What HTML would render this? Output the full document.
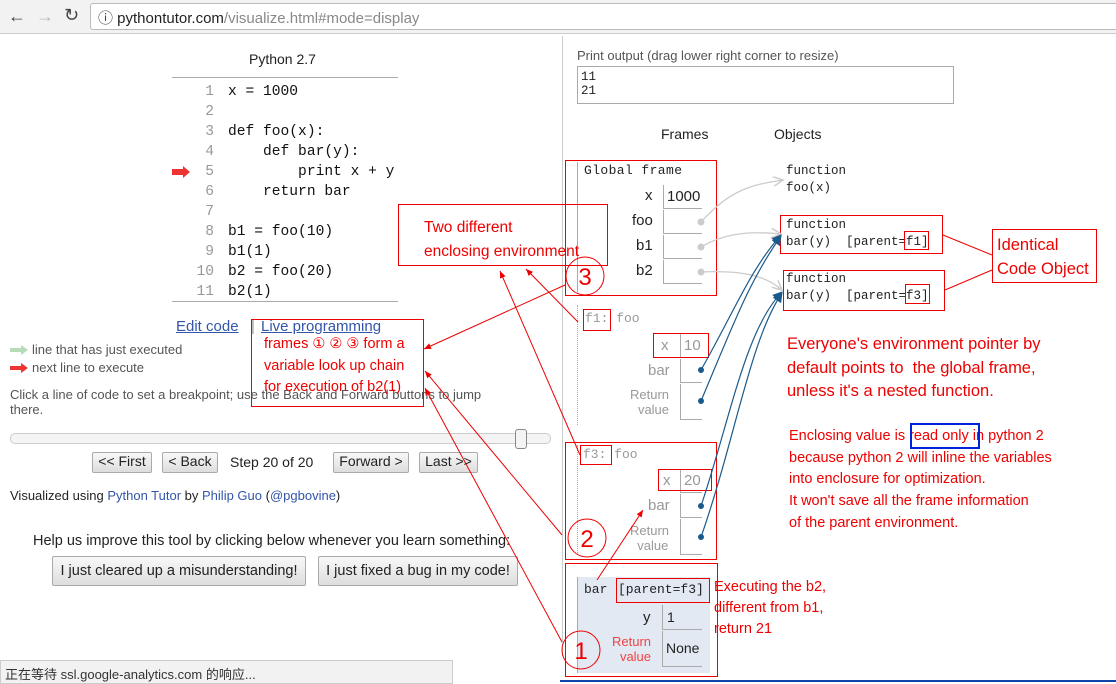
<!DOCTYPE html>
<html><head><meta charset="utf-8"><style>
*{margin:0;padding:0;box-sizing:border-box}
body{width:1116px;height:684px;position:relative;overflow:hidden;background:#fff;font-family:"Liberation Sans","DejaVu Sans",sans-serif;color:#222}
.a{position:absolute;white-space:nowrap}
.m{font-family:"Liberation Mono","DejaVu Sans Mono",monospace}
.r{color:#e00;font-family:"Liberation Sans",sans-serif}
.rb{position:absolute;border:1.5px solid #e00}
.btn{position:absolute;border:1px solid #aaa;background:linear-gradient(#f8f8f8,#ddd);font-size:14px;text-align:center;border-radius:2px}
.vb{position:absolute;border-left:1px solid #aaa;border-bottom:1px solid #aaa}
.g{color:#999}
</style></head><body>
<div class="a" style="left:0;top:0;width:1116px;height:34px;background:#f2f2f2;border-bottom:1px solid #ccc"></div>
<div class="a" style="left:8px;top:6px;font-size:18px;color:#444">←</div>
<div class="a" style="left:36px;top:6px;font-size:18px;color:#bbb">→</div>
<div class="a" style="left:64px;top:5px;font-size:18px;color:#444">↻</div>
<div class="a" style="left:90px;top:3px;width:1030px;height:27px;background:#fff;border:1px solid #bbb;border-radius:3px"></div>
<div class="a" style="left:98px;top:7px;font-size:15px;color:#444">ⓘ <span style="color:#222">pythontutor.com</span><span style="color:#888">/visualize.html#mode=display</span></div>

<div class="a" style="left:249px;top:51px;font-size:14px">Python 2.7</div>
<div class="a" style="left:172px;top:77px;width:226px;height:1px;background:#aaa"></div>
<div class="a m" style="left:190px;top:82px;font-size:14.6px;line-height:20px;color:#999;text-align:right;width:24px">1<br>2<br>3<br>4<br>5<br>6<br>7<br>8<br>9<br>10<br>11</div>
<div class="a m" style="left:228px;top:82px;font-size:14.6px;line-height:20px;white-space:pre;color:#111">x = 1000

def foo(x):
    def bar(y):
        print x + y
    return bar

b1 = foo(10)
b1(1)
b2 = foo(20)
b2(1)</div>
<div class="a" style="left:172px;top:301px;width:226px;height:1px;background:#aaa"></div>
<svg class="a" style="left:172px;top:166px" width="20" height="12"><path d="M0 3h11v-3l7 6-7 6v-3H0z" fill="#e33"/></svg>

<div class="a" style="left:176px;top:318px;font-size:15px;color:#3355aa;text-decoration:underline">Edit code</div>
<div class="a" style="left:251px;top:318px;font-size:15px;color:#999">|</div>
<div class="a" style="left:261px;top:318px;font-size:15px;color:#3355aa;text-decoration:underline">Live programming</div>
<svg class="a" style="left:10px;top:344px" width="20" height="30"><path d="M0 4h11v-3l7 5-7 5v-3H0z" fill="#b8dcb8"/><path d="M0 22h11v-3l7 5-7 5v-3H0z" fill="#e33"/></svg>
<div class="a" style="left:32px;top:342px;font-size:13px;color:#555">line that has just executed</div>
<div class="a" style="left:32px;top:360px;font-size:13px;color:#555">next line to execute</div>
<div class="a" style="left:10px;top:387px;font-size:13px;color:#555;line-height:15px">Click a line of code to set a breakpoint; use the Back and Forward buttons to jump<br>there.</div>
<div class="a" style="left:10px;top:433px;width:541px;height:11px;border:1px solid #ccc;border-radius:5px;background:#f4f4f4"></div>
<div class="a" style="left:515px;top:429px;width:12px;height:20px;border:1px solid #888;border-radius:3px;background:#f4f4f4"></div>
<div class="btn" style="left:92px;top:452px;width:60px;height:21px">&lt;&lt; First</div>
<div class="btn" style="left:162px;top:452px;width:56px;height:21px">&lt; Back</div>
<div class="a" style="left:230px;top:454px;font-size:14px">Step 20 of 20</div>
<div class="btn" style="left:333px;top:452px;width:76px;height:21px">Forward &gt;</div>
<div class="btn" style="left:419px;top:452px;width:59px;height:21px">Last &gt;&gt;</div>
<div class="a" style="left:10px;top:488px;font-size:13px">Visualized using <span style="color:#3355aa">Python Tutor</span> by <span style="color:#3355aa">Philip Guo</span> (<span style="color:#3355aa">@pgbovine</span>)</div>
<div class="a" style="left:33px;top:533px;font-size:14.5px">Help us improve this tool by clicking below whenever you learn something:</div>
<div class="btn" style="left:52px;top:556px;width:254px;height:30px;line-height:28px;font-size:14.5px">I just cleared up a misunderstanding!</div>
<div class="btn" style="left:318px;top:556px;width:200px;height:30px;line-height:28px;font-size:14.5px">I just fixed a bug in my code!</div>
<div class="a" style="left:0;top:660px;width:453px;height:24px;background:#f2f2f2;border:1px solid #ccc;font-size:13px;padding:3px 4px;color:#333;font-family:'Liberation Sans','Noto Sans CJK SC',sans-serif">正在等待 ssl.google-analytics.com 的响应...</div>

<!-- right side -->
<div class="a" style="left:562px;top:36px;width:1px;height:620px;background:#ccc"></div>
<div class="a" style="left:577px;top:48px;font-size:13px;color:#555">Print output (drag lower right corner to resize)</div>
<div class="a m" style="left:577px;top:66px;width:377px;height:38px;border:1px solid #aaa;font-size:12.5px;line-height:14px;padding:3px 3px">11<br>21</div>
<div class="a" style="left:661px;top:126px;font-size:14px">Frames</div>
<div class="a" style="left:774px;top:126px;font-size:14px">Objects</div>

<div class="a" style="left:577px;top:162px;width:1px;height:130px;background:#aaa"></div>
<div class="a m" style="left:584px;top:163px;font-size:13px;letter-spacing:0.4px">Global frame</div>
<div class="a" style="left:645px;top:187px;font-size:15px">x</div>
<div class="a" style="left:632px;top:212px;font-size:15px">foo</div>
<div class="a" style="left:636px;top:237px;font-size:15px">b1</div>
<div class="a" style="left:636px;top:262px;font-size:15px">b2</div>
<div class="vb" style="left:663px;top:185px;width:39px;height:24px"></div>
<div class="a" style="left:667px;top:188px;font-size:15px">1000</div>
<div class="vb" style="left:663px;top:210px;width:39px;height:24px"></div>
<div class="vb" style="left:663px;top:235px;width:39px;height:24px"></div>
<div class="vb" style="left:663px;top:260px;width:39px;height:24px"></div>

<div class="a m" style="left:786px;top:163px;font-size:12.5px;line-height:17px;white-space:pre">function
foo(x)</div>
<div class="a m" style="left:786px;top:217px;font-size:12.5px;line-height:17px;white-space:pre">function
bar(y)  [parent=f1]</div>
<div class="a m" style="left:786px;top:271px;font-size:12.5px;line-height:17px;white-space:pre">function
bar(y)  [parent=f3]</div>

<div class="a" style="left:577px;top:305px;height:120px;border-left:1px dotted #aaa"></div>
<div class="a m g" style="left:585px;top:311px;font-size:13px">f1: foo</div>
<div class="a g" style="left:661px;top:337px;font-size:15px">x</div>
<div class="vb" style="left:680px;top:334px;width:22px;height:24px"></div>
<div class="a g" style="left:684px;top:337px;font-size:15px">10</div>
<div class="a g" style="left:648px;top:362px;font-size:15px">bar</div>
<div class="vb" style="left:680px;top:359px;width:22px;height:24px"></div>
<div class="a g" style="left:630px;top:387px;font-size:13px;text-align:right;line-height:15px">Return<br>&nbsp;&nbsp;value</div>
<div class="vb" style="left:680px;top:384px;width:22px;height:36px"></div>

<div class="a" style="left:577px;top:445px;height:110px;border-left:1px dotted #aaa"></div>
<div class="a m g" style="left:583px;top:447px;font-size:13px">f3: foo</div>
<div class="a g" style="left:663px;top:472px;font-size:15px">x</div>
<div class="vb" style="left:680px;top:469px;width:22px;height:24px"></div>
<div class="a g" style="left:684px;top:472px;font-size:15px">20</div>
<div class="a g" style="left:648px;top:497px;font-size:15px">bar</div>
<div class="vb" style="left:680px;top:494px;width:22px;height:24px"></div>
<div class="a g" style="left:630px;top:523px;font-size:13px;line-height:15px">Return<br>&nbsp;&nbsp;value</div>
<div class="vb" style="left:680px;top:519px;width:22px;height:36px"></div>

<div class="a" style="left:577px;top:577px;width:133px;height:96px;background:#e2e9f3;border-left:1px solid #aaa"></div>
<div class="a m" style="left:584px;top:582px;font-size:13px">bar</div>
<div class="a m" style="left:618px;top:582px;font-size:13px">[parent=f3]</div>
<div class="a" style="left:643px;top:609px;font-size:15px">y</div>
<div class="vb" style="left:662px;top:605px;width:40px;height:25px"></div>
<div class="a" style="left:667px;top:609px;font-size:14px">1</div>
<div class="a" style="left:612px;top:634px;font-size:13px;color:#e44;line-height:15px;text-align:right">Return<br>&nbsp;&nbsp;value</div>
<div class="vb" style="left:662px;top:631px;width:40px;height:36px"></div>
<div class="a" style="left:666px;top:640px;font-size:14px">None</div>

<!-- red annotation boxes -->
<div class="rb" style="left:565px;top:160px;width:152px;height:136px"></div>
<div class="rb" style="left:780px;top:215px;width:163px;height:39px"></div>
<div class="rb" style="left:904px;top:231px;width:25px;height:19px"></div>
<div class="rb" style="left:783px;top:270px;width:162px;height:41px"></div>
<div class="rb" style="left:905px;top:284px;width:25px;height:20px"></div>
<div class="rb" style="left:992px;top:229px;width:105px;height:54px"></div>
<div class="a r" style="left:997px;top:233px;font-size:16.5px;line-height:24px">Identical<br>Code Object</div>
<div class="rb" style="left:583px;top:309px;width:28px;height:22px"></div>
<div class="rb" style="left:653px;top:333px;width:56px;height:25px"></div>
<div class="rb" style="left:565px;top:442px;width:152px;height:118px"></div>
<div class="rb" style="left:580px;top:445px;width:32px;height:20px"></div>
<div class="rb" style="left:658px;top:469px;width:54px;height:22px"></div>
<div class="rb" style="left:565px;top:563px;width:153px;height:114px"></div>
<div class="rb" style="left:616px;top:578px;width:94px;height:25px"></div>
<div class="rb" style="left:398px;top:204px;width:210px;height:62px"></div>
<div class="a r" style="left:424px;top:216px;font-size:15.5px;line-height:24px">Two different<br>enclosing environment</div>
<div class="rb" style="left:251px;top:319px;width:173px;height:88px"></div>
<div class="a r" style="left:264px;top:334px;font-size:14.5px;line-height:21.5px">frames ① ② ③ form a<br>variable look up chain<br>for execution of b2(1)</div>
<div class="a r" style="left:714px;top:577px;font-size:14.5px;line-height:21px">Executing the b2,<br>different from b1,<br>return 21</div>
<div class="a r" style="left:787px;top:333px;font-size:16.5px;line-height:23.5px">Everyone's environment pointer by<br>default points to&nbsp; the global frame,<br>unless it's a nested function.</div>
<div class="a r" style="left:789px;top:426px;font-size:14.5px;line-height:21.7px">Enclosing value is read only in python 2<br>because python 2 will inline the variables<br>into enclosure for optimization.<br>It won't save all the frame information<br>of the parent environment.</div>
<div class="a" style="left:910px;top:423px;width:70px;height:26px;border:2px solid #0022dd"></div>

<svg class="a" style="left:0;top:0" width="1116" height="684">
<defs>
<marker id="ar" markerWidth="8" markerHeight="8" refX="7" refY="4" orient="auto" markerUnits="userSpaceOnUse"><path d="M0 1L7 4L0 7" fill="#e00"/></marker>
<marker id="ag" markerWidth="12" markerHeight="10" refX="10" refY="5" orient="auto" markerUnits="userSpaceOnUse"><path d="M0 0L10 5L0 10" fill="none" stroke="#ccc" stroke-width="1.5"/></marker>
<marker id="ab" markerWidth="10" markerHeight="10" refX="9" refY="5" orient="auto" markerUnits="userSpaceOnUse"><path d="M0 0L10 5L0 10z" fill="#1a5a8a"/></marker>
</defs>
<g fill="none" stroke="#ccc" stroke-width="1.3">
<path d="M701 222C730 190 750 185 783 180" marker-end="url(#ag)"/>
<path d="M701 247C730 230 760 232 781 234" marker-end="url(#ag)"/>
<path d="M701 272C740 270 765 275 782 290" marker-end="url(#ag)"/>
</g>
<g fill="#ccc"><circle cx="701" cy="222" r="3.5"/><circle cx="701" cy="247" r="3.5"/><circle cx="701" cy="272" r="3.5"/></g>
<g fill="none" stroke="#1a5a8a" stroke-width="1.2">
<path d="M701 370C735 310 750 270 781 235" marker-end="url(#ab)"/>
<path d="M701 401C735 320 750 280 781 236" marker-end="url(#ab)"/>
<path d="M701 506C730 420 745 330 782 292" marker-end="url(#ab)"/>
<path d="M701 537C735 440 750 340 782 293" marker-end="url(#ab)"/>
</g>
<g fill="#1a5a8a"><circle cx="701" cy="370" r="3"/><circle cx="701" cy="401" r="3"/><circle cx="701" cy="506" r="3"/><circle cx="701" cy="537" r="3"/></g>
<g fill="none" stroke="#e00" stroke-width="1">
<circle cx="585" cy="276" r="19"/><circle cx="587" cy="538" r="19"/><circle cx="581" cy="650" r="19"/>
<path d="M943 235L992 255"/><path d="M945 290L992 270"/>
<path d="M565 285L424 349" marker-end="url(#ar)"/>
<path d="M578 322L526 269" marker-end="url(#ar)"/>
<path d="M580 455L500 271" marker-end="url(#ar)"/>
<path d="M562 535L425 371" marker-end="url(#ar)"/>
<path d="M562 642L425 388" marker-end="url(#ar)"/>
<path d="M597 580L643 510" marker-end="url(#ar)"/>
</g>
<g fill="#e00" font-family="Liberation Sans,sans-serif" font-size="24" text-anchor="middle">
<text x="585" y="285">3</text><text x="587" y="547">2</text><text x="581" y="659">1</text>
</g>
</svg>
<div class="a" style="left:560px;top:680px;width:556px;height:2px;background:#1144aa"></div>
</body></html>
